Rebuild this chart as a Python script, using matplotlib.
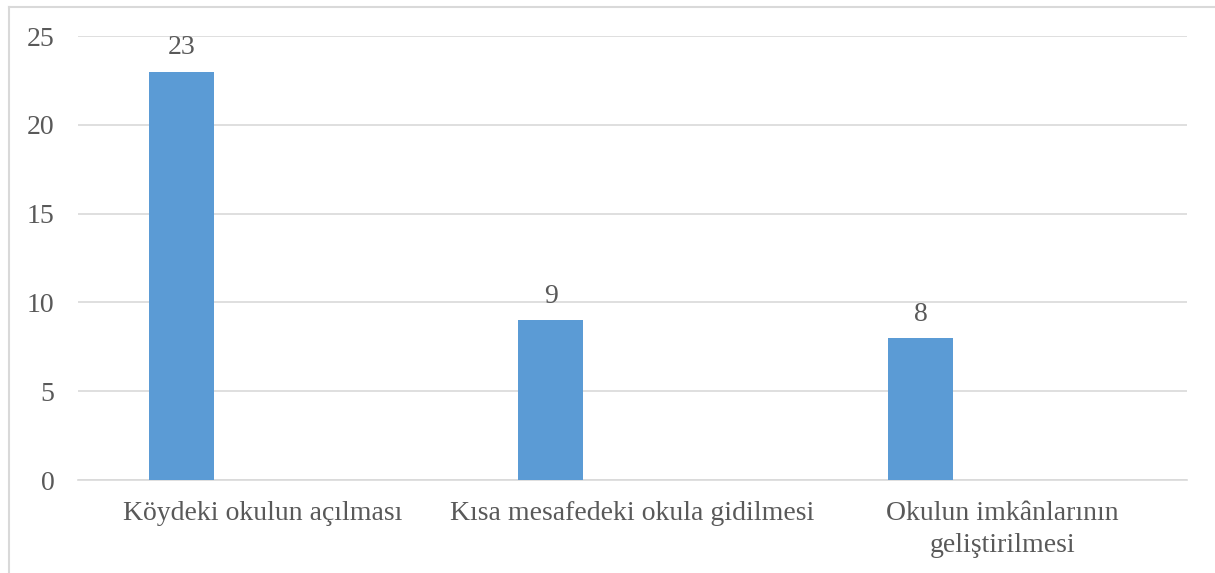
import matplotlib.pyplot as plt
from matplotlib.lines import Line2D

categories = ["Köydeki okulun açılması",
              "Kısa mesafedeki okula gidilmesi",
              "Okulun imkânlarının\ngeliştirilmesi"]
values = [23, 9, 8]
yticks = [0, 5, 10, 15, 20, 25]

BAR = "#5B9BD5"
TEXT = "#595959"
GRID = "#D9D9D9"

plt.rcParams["font.family"] = ["Liberation Serif", "DejaVu Serif"]

W, H = 1215, 573
fig = plt.figure(figsize=(W / 100, H / 100), dpi=100)
ax = fig.add_axes([78 / W, 1 - 480 / H, (1187 - 78) / W, (480 - 36) / H])

x = list(range(len(categories)))
bars = ax.bar([i - 0.221 for i in x], values, 0.176, color=BAR, zorder=3)
for b, v in zip(bars, values):
    ax.annotate(f"{v}", xy=(b.get_x() + b.get_width() / 2, v),
                xytext=(0, 8), textcoords="offset points",
                ha="center", va="bottom", fontsize=20, color=TEXT)

ax.set_xlim(-0.5, len(categories) - 0.5)
ax.set_ylim(0, 25)
ax.set_yticks(yticks)
ax.set_xticks(x)
ax.set_xticklabels(categories, linespacing=1.4)
ax.tick_params(axis="both", length=0, labelsize=20, labelcolor=TEXT)
ax.tick_params(axis="y", pad=17)
ax.tick_params(axis="x", pad=15)
ax.grid(axis="y", color=GRID, linewidth=1.2, zorder=0)
for s in ("top", "right", "left"):
    ax.spines[s].set_visible(False)
ax.spines["bottom"].set_color(GRID)
ax.spines["bottom"].set_linewidth(1.2)

# chart-area border (only top and left visible in the crop)
fig.add_artist(Line2D([8.5 / W, 8.5 / W], [0, 1 - 6.5 / H], color=GRID, lw=1.5))
fig.add_artist(Line2D([8.5 / W, 1], [1 - 6.5 / H, 1 - 6.5 / H], color=GRID, lw=1.5))

fig.savefig("out.png", dpi=100)
